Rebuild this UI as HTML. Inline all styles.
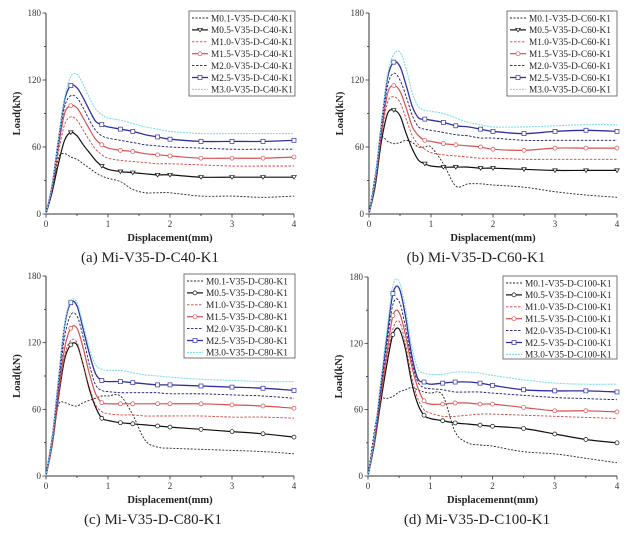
<!DOCTYPE html>
<html><head><meta charset="utf-8"><style>
body{margin:0;background:#fff;}
svg{display:block;font-family:"Liberation Serif",serif;}
</style></head><body>
<svg id="chart" width="638" height="540" viewBox="0 0 638 540" xmlns="http://www.w3.org/2000/svg"></svg>
<script>
const xGrid=[0,0.1,0.2,0.3,0.4,0.5,0.6,0.7,0.8,0.9,1.0,1.2,1.4,1.6,1.8,2.0,2.5,3.0,3.5,4.0];
const seriesNames=["M0.1","M0.5","M1.0","M1.5","M2.0","M2.5","M3.0"];
const xTicks=[0,1,2,3,4];
const yTicks=[0,60,120,180];
const panelA=[
[0,20,50,54,51,49,45,41,37,34,32,29,22,19,19,19,16,16,15,16],
[0,20,45,66,73,70,62,55,48,43,40,38,37,36,35,35,33,33,33,33],
[0,22,55,80,87,84,75,66,58,53,50,48,47,46,45,45,44,43,43,43],
[0,24,60,90,97,95,86,76,67,62,59,57,56,54,53,52,50,50,50,51],
[0,25,63,96,106,104,95,84,75,70,68,66,64,62,61,60,59,58,58,58],
[0,26,66,102,115,113,104,93,83,80,78,76,74,71,69,67,65,65,65,66],
[0,26,66,104,123,125,116,104,94,89,86,84,81,78,76,74,72,72,72,72]];
const panelB=[
[0,35,67,65,63,64,66,64,60,60,60,45,25,27,27,26,24,20,17,15],
[0,25,65,90,93,88,72,58,48,45,43,42,42,42,41,41,40,39,39,39],
[0,28,70,100,105,100,85,70,62,58,55,53,52,51,50,50,49,49,49,49],
[0,28,72,108,115,110,95,78,70,66,65,63,62,61,60,58,57,59,59,59],
[0,30,76,115,126,120,105,88,78,76,75,73,71,70,68,68,66,66,66,66],
[0,31,80,122,136,132,115,96,86,85,84,82,79,78,76,74,72,74,75,74],
[0,32,80,125,143,145,130,108,96,93,92,90,86,82,80,78,78,79,80,80]];
const panelC=[
[0,35,64,66,64,63,66,68,70,72,72,72,55,32,26,25,24,23,22,20],
[0,28,70,105,118,118,100,78,62,52,50,48,47,46,45,44,42,40,38,35],
[0,28,70,108,122,120,100,80,64,58,56,55,55,54,54,54,54,53,53,52],
[0,30,75,115,133,133,115,92,74,66,65,65,65,65,65,65,65,64,63,61],
[0,32,80,125,145,144,125,100,82,77,76,75,75,75,75,74,74,73,72,70],
[0,34,85,135,156,153,132,110,92,86,85,85,84,83,82,82,81,80,79,77],
[0,34,86,137,158,156,136,115,100,96,95,95,93,91,90,89,87,86,85,85]];
const panelD=[
[0,40,68,70,72,76,78,80,78,76,75,73,40,30,28,27,22,20,16,12],
[0,28,65,100,128,133,115,85,65,55,52,50,48,47,46,45,43,38,33,30],
[0,28,68,105,133,140,120,90,70,60,57,54,54,55,56,56,55,54,53,52],
[0,30,72,110,145,148,128,100,80,68,65,65,66,66,65,65,62,59,59,58],
[0,31,75,118,155,158,135,105,85,80,79,78,76,76,76,75,73,71,70,69],
[0,33,80,125,165,170,145,110,88,85,83,84,85,85,84,82,78,77,77,76],
[0,34,82,130,172,176,152,118,97,93,92,92,94,94,93,91,87,84,83,83]];

const NS="http://www.w3.org/2000/svg";
const svg=document.getElementById('chart');
function mk(tag,attrs,parent){const e=document.createElementNS(NS,tag);for(const k in attrs)e.setAttribute(k,attrs[k]);(parent||svg).appendChild(e);return e;}
const styles=[
{c:"#222",w:0.9,d:"2,1.5",m:null},
{c:"#111",w:1.2,d:"",m:"tri"},
{c:"#d04040",w:0.9,d:"2.5,1.5",m:null},
{c:"#d85050",w:1.2,d:"",m:"circ"},
{c:"#1a1a70",w:0.9,d:"2.5,1.5",m:null},
{c:"#3030a0",w:1.3,d:"",m:"sq"},
{c:"#80dde8",w:1.1,d:"2,1",m:null}];
function smooth(pts){let d="M"+pts[0][0]+","+pts[0][1];for(let i=0;i<pts.length-1;i++){const p0=pts[Math.max(0,i-1)],p1=pts[i],p2=pts[i+1],p3=pts[Math.min(pts.length-1,i+2)];const c1=[p1[0]+(p2[0]-p0[0])/6,p1[1]+(p2[1]-p0[1])/6],c2=[p2[0]-(p3[0]-p1[0])/6,p2[1]-(p3[1]-p1[1])/6];d+=" C"+c1[0].toFixed(1)+","+c1[1].toFixed(1)+" "+c2[0].toFixed(1)+","+c2[1].toFixed(1)+" "+p2[0].toFixed(1)+","+p2[1].toFixed(1);}return d;}
function marker(g,type,x,y,c){let e;
if(type==="tri"){e=mk('path',{d:`M${x-2.3},${y-1.6} L${x+2.3},${y-1.6} L${x},${y+2} Z`,fill:"#fff",stroke:c,"stroke-width":0.7},g);}
else if(type==="circ"){e=mk('circle',{cx:x,cy:y,r:2,fill:"#fff",stroke:c,"stroke-width":0.7},g);}
else{e=mk('rect',{x:x-2,y:y-2,width:4,height:4,fill:"#fff",stroke:c,"stroke-width":0.7},g);}

}
const markerX=[0.4,0.9,1.2,1.4,1.8,2.0,2.5,3.0,3.5,4.0];
const panels=[
{id:"a",data:panelA,conc:"C40",ttl:"(a) Mi-V35-D-C40-K1",x0:46,x1:294,yT:13,yB:214,lg:[189,11,106,85],cap:[150,262],mk0:"tri"},
{id:"b",data:panelB,conc:"C60",ttl:"(b) Mi-V35-D-C60-K1",x0:369,x1:617,yT:13,yB:214,lg:[507,11,110,85],cap:[476,262],mk0:"tri"},
{id:"c",data:panelC,conc:"C80",ttl:"(c) Mi-V35-D-C80-K1",x0:46,x1:294,yT:276,yB:476,lg:[184,274,111,84],cap:[153,524],mk0:"circ"},
{id:"d",data:panelD,conc:"C100",ttl:"(d) Mi-V35-D-C100-K1",x0:368,x1:617,yT:277,yB:476,lg:[503,276,114,83],cap:[477,524],mk0:"circ"}];
panels.forEach(P=>{
 const g=mk('g',{});
 
 
 const sx=v=>P.x0+(P.x1-P.x0)*v/4, sy=v=>P.yB-(P.yB-P.yT)*v/180;
 const ax=mk('path',{d:`M${P.x0},${P.yT} L${P.x0},${P.yB} L${P.x1},${P.yB}`,fill:"none",stroke:"#333","stroke-width":1},g);
 
 
 for(let v=0;v<=4;v+=0.5){mk('line',{x1:sx(v),x2:sx(v),y1:P.yB,y2:P.yB+(v%1===0?3.5:2),stroke:"#333","stroke-width":0.8},g);}
 for(let v=0;v<=180;v+=30){mk('line',{x1:P.x0,x2:P.x0-(v%60===0?3.5:2),y1:sy(v),y2:sy(v),stroke:"#333","stroke-width":0.8},g);}
 xTicks.forEach(v=>{const t=mk('text',{x:sx(v),y:P.yB+13,"font-size":9,"text-anchor":"middle",fill:"#333"},g);t.textContent=v;
  
  });
 yTicks.forEach(v=>{const t=mk('text',{x:P.x0-5,y:sy(v)+3,"font-size":9,"text-anchor":"end",fill:"#333"},g);t.textContent=v;
  
  });
 const xl=mk('text',{x:(P.x0+P.x1)/2,y:P.yB+27,"font-size":10.5,"font-weight":"bold","text-anchor":"middle",fill:"#222"},g);
 xl.textContent=P.id==="d"?"Displacemennt(mm)":"Displacement(mm)";
 
 
 const ycx=P.x0-26, ycy=(P.yT+P.yB)/2;
 const yl=mk('text',{x:ycx,y:ycy,"font-size":10.5,"font-weight":"bold","text-anchor":"middle",fill:"#222",transform:`rotate(-90 ${ycx} ${ycy})`},g);
 yl.textContent="Load(kN)";
 
 
 P.data.forEach((ys,i)=>{
  const s=styles[i];const mt=i===1?P.mk0:s.m;
  const pts=xGrid.map((x,k)=>[sx(x),sy(ys[k])]);
  const p=mk('path',{d:smooth(pts),fill:"none",stroke:s.c,"stroke-width":s.w,"stroke-dasharray":s.d},g);
  
  
  if(mt){xGrid.forEach((x,k)=>{if(markerX.includes(x))marker(g,mt,sx(x),sy(ys[k]),s.c);});}
 });
 const [lx,ly,lw,lh]=P.lg;
 const lg=mk('g',{},g);
 
 
 mk('rect',{x:lx,y:ly,width:lw,height:lh,fill:"#fff",stroke:"#555","stroke-width":0.8},lg);
 seriesNames.forEach((n,i)=>{
  const s=styles[i];const mt=i===1?P.mk0:s.m;const yy=ly+7+i*11.9;
  const e=mk('g',{},lg);
  
  
  mk('line',{x1:lx+3,x2:lx+19,y1:yy,y2:yy,stroke:s.c,"stroke-width":s.w,"stroke-dasharray":s.d},e);
  if(mt)marker(e,mt,lx+11,yy,s.c);
  const t=mk('text',{x:lx+22,y:yy+3.3,"font-size":9.3,fill:"#222"},e);
  t.textContent=n+"-V35-D-"+P.conc+"-K1";
 });
 const cap=mk('text',{x:P.cap[0],y:P.cap[1],"font-size":15,"text-anchor":"middle",fill:"#222"},g);
 cap.textContent=P.ttl;
 
 
});
</script>
</body></html>
